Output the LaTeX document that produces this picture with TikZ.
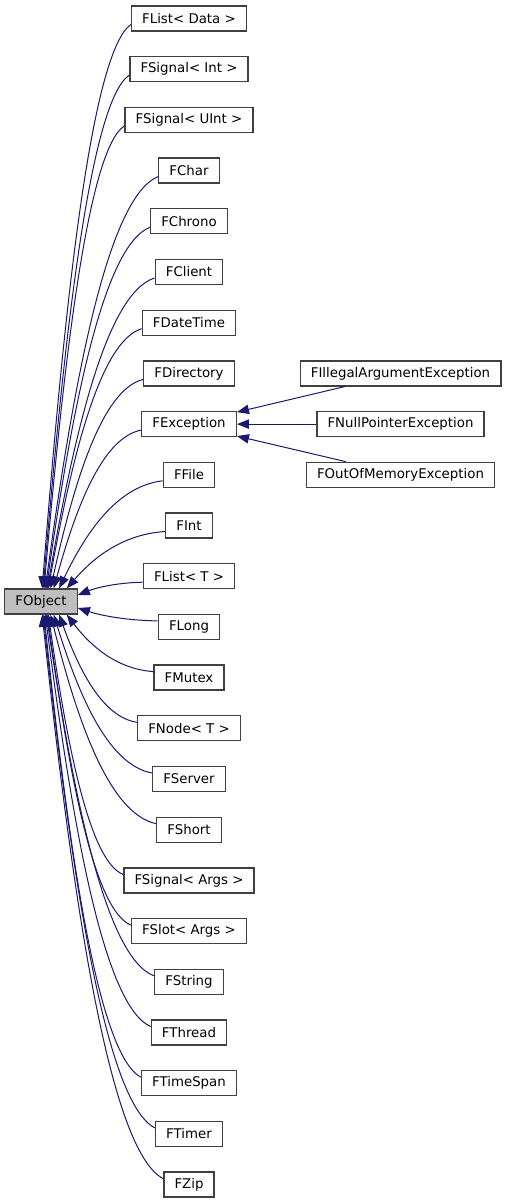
\documentclass[tikz,border=0pt]{standalone}
\usepackage{fontspec}
\setmainfont{DejaVu Sans}
\usetikzlibrary{arrows.meta,calc}
\definecolor{edgeblue}{HTML}{191970}
\definecolor{boxline}{HTML}{404040}
\definecolor{basefill}{HTML}{BFBFBF}

\begin{document}
\begin{tikzpicture}[x=0.75pt,y=-0.75pt]

\tikzstyle{every node}=[font=\fontsize{10}{12}\selectfont]
\tikzstyle{class}=[draw=boxline,fill=white,line width=1pt,minimum height=18.75pt,inner xsep=8pt,inner ysep=0pt]
\tikzstyle{inherit}=[draw=edgeblue,line width=0.75pt,{Triangle[length=9pt,width=7pt]}-,
  to path={let \p1=(\tikztostart), \p2=(\tikztotarget) in
    .. controls ({\x1+0.25*(\x2-\x1)},{\y1+0.5*(\y2-\y1)}) and ({\x2-0.45*(\x2-\x1)},{\y2-0.05*(\y2-\y1)}) .. (\tikztotarget)}]

\useasboundingbox (0,0) rectangle (505,1203);

\node[class,fill=basefill] (fobject) at (41,601.5) {FObject};

\node[class] (flistdata) at (189,18.5) {FList< Data >};
\node[class] (fsignalint) at (189,69.2) {FSignal< Int >};
\node[class] (fsignaluint) at (189,119.9) {FSignal< UInt >};
\node[class] (fchar) at (189,170.6) {FChar};
\node[class] (fchrono) at (189,221.3) {FChrono};
\node[class] (fclient) at (189,272.0) {FClient};
\node[class] (fdatetime) at (189,322.7) {FDateTime};
\node[class] (fdirectory) at (189,373.4) {FDirectory};
\node[class] (fexception) at (189,424.1) {FException};
\node[class] (ffile) at (189,474.8) {FFile};
\node[class] (fint) at (189,525.5) {FInt};
\node[class] (flistt) at (189,576.2) {FList< T >};
\node[class] (flong) at (189,626.9) {FLong};
\node[class] (fmutex) at (189,677.6) {FMutex};
\node[class] (fnode) at (189,728.3) {FNode< T >};
\node[class] (fserver) at (189,779.0) {FServer};
\node[class] (fshort) at (189,829.7) {FShort};
\node[class] (fsignalargs) at (189,880.4) {FSignal< Args >};
\node[class] (fslot) at (189,931.1) {FSlot< Args >};
\node[class] (fstring) at (189,981.8) {FString};
\node[class] (fthread) at (189,1032.5) {FThread};
\node[class] (ftimespan) at (189,1083.2) {FTimeSpan};
\node[class] (ftimer) at (189,1133.9) {FTimer};
\node[class] (fzip) at (189,1184.6) {FZip};

\node[class] (fillegal) at (400.5,373.4) {FIllegalArgumentException};
\node[class] (fnullpointer) at (400.5,424.1) {FNullPointerException};
\node[class] (foutofmemory) at (400.5,474.8) {FOutOfMemoryException};

% classes above FObject
\draw[inherit] (fobject.85) to ([yshift=-4.5pt]flistdata.west);
\draw[inherit] (fobject.81) to ([yshift=-4.5pt]fsignalint.west);
\draw[inherit] (fobject.77) to ([yshift=-4.5pt]fsignaluint.west);
\draw[inherit] (fobject.72) to ([yshift=-4.5pt]fchar.west);
\draw[inherit] (fobject.68) to ([yshift=-4.5pt]fchrono.west);
\draw[inherit] (fobject.64) to ([yshift=-4.5pt]fclient.west);
\draw[inherit] (fobject.61) to ([yshift=-4.5pt]fdatetime.west);
\draw[inherit] (fobject.54) to ([yshift=-4.5pt]fdirectory.west);
\draw[inherit] (fobject.46) to ([yshift=-4.5pt]fexception.west);
\draw[inherit] (fobject.36) to ([yshift=-4.5pt]ffile.west);
\draw[inherit] (fobject.27) to ([yshift=-4.5pt]fint.west);
\draw[inherit] (fobject.10) to ([yshift=-4.5pt]flistt.west);

% classes below FObject
\draw[inherit] (fobject.-10) to ([yshift=4.5pt]flong.west);
\draw[inherit] (fobject.-27) to ([yshift=4.5pt]fmutex.west);
\draw[inherit] (fobject.-36) to ([yshift=4.5pt]fnode.west);
\draw[inherit] (fobject.-46) to ([yshift=4.5pt]fserver.west);
\draw[inherit] (fobject.-54) to ([yshift=4.5pt]fshort.west);
\draw[inherit] (fobject.-61) to ([yshift=4.5pt]fsignalargs.west);
\draw[inherit] (fobject.-64) to ([yshift=4.5pt]fslot.west);
\draw[inherit] (fobject.-68) to ([yshift=4.5pt]fstring.west);
\draw[inherit] (fobject.-72) to ([yshift=4.5pt]fthread.west);
\draw[inherit] (fobject.-77) to ([yshift=4.5pt]ftimespan.west);
\draw[inherit] (fobject.-81) to ([yshift=4.5pt]ftimer.west);
\draw[inherit] (fobject.-85) to ([yshift=4.5pt]fzip.west);

% exceptions
\draw[inherit] (fexception.14) -- ([xshift=34pt]fillegal.south west);
\draw[inherit] (fexception.east) -- (fnullpointer.west);
\draw[inherit] (fexception.-14) -- ([xshift=30pt]foutofmemory.north west);

\end{tikzpicture}
\end{document}
